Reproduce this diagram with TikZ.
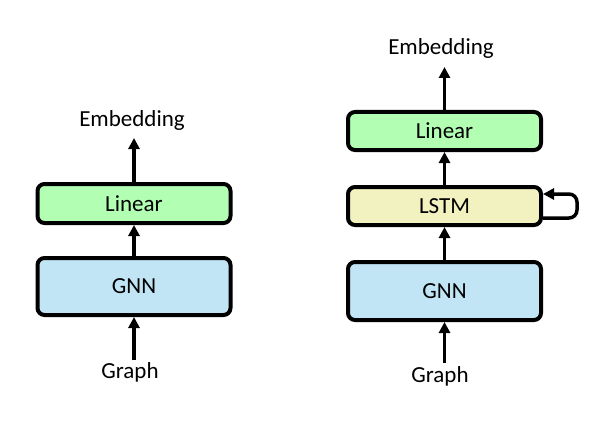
\documentclass[tikz,border=0pt]{standalone}
\usepackage{fontspec}
\setmainfont{Carlito}
\usetikzlibrary{arrows.meta}
\definecolor{lingreen}{RGB}{178,255,180}
\definecolor{lstmyel}{RGB}{242,242,192}
\definecolor{gnnblue}{RGB}{193,229,245}
\begin{document}
\begin{tikzpicture}[x=1pt,y=-1pt,
  blk/.style={draw=black,line width=4pt,rounded corners=7pt,minimum width=193pt,inner sep=0pt,font=\fontsize{23}{27}\selectfont},
  lbl/.style={inner sep=2pt,font=\fontsize{23}{27}\selectfont},
  arr/.style={line width=3.5pt,-{Triangle[width=11pt,length=11pt]}}]
\useasboundingbox (0,0) rectangle (615,433);
% left
\node[blk,fill=lingreen,minimum height=39pt] (lin1) at (134,203.5) {Linear};
\node[blk,fill=gnnblue,minimum height=57pt] (gnn1) at (134,286.5) {GNN};
\node[lbl] (emb1) at (132,120) {Embedding};
\node[lbl] (gr1) at (130,372) {Graph};
\draw[arr] (lin1.north) -- (lin1.north |- 0,138) coordinate (e1);
\draw[arr] (gnn1.north) -- (lin1.south);
\draw[arr] (gnn1.south |- 0,360) coordinate (g1) -- (gnn1.south);
% right
\node[blk,fill=lingreen,minimum height=38pt] (lin2) at (444.5,131) {Linear};
\node[blk,fill=lstmyel,minimum height=38pt] (lstm) at (444.5,206) {LSTM};
\node[blk,fill=gnnblue,minimum height=58pt] (gnn2) at (444.5,291) {GNN};
\node[lbl] (emb2) at (441,48) {Embedding};
\node[lbl] (gr2) at (440,376) {Graph};
\draw[arr] (lin2.north) -- (lin2.north |- 0,67) coordinate (e2);
\draw[arr] (lstm.north) -- (lin2.south);
\draw[arr] (gnn2.north) -- (lstm.south);
\draw[arr] (gnn2.south |- 0,363) coordinate (g2) -- (gnn2.south);
\draw[arr,rounded corners=8pt] ([yshift=-12pt]lstm.east) -- ++(34,0) -- ++(0,-24) -- ([yshift=12pt]lstm.east);
\end{tikzpicture}
\end{document}
